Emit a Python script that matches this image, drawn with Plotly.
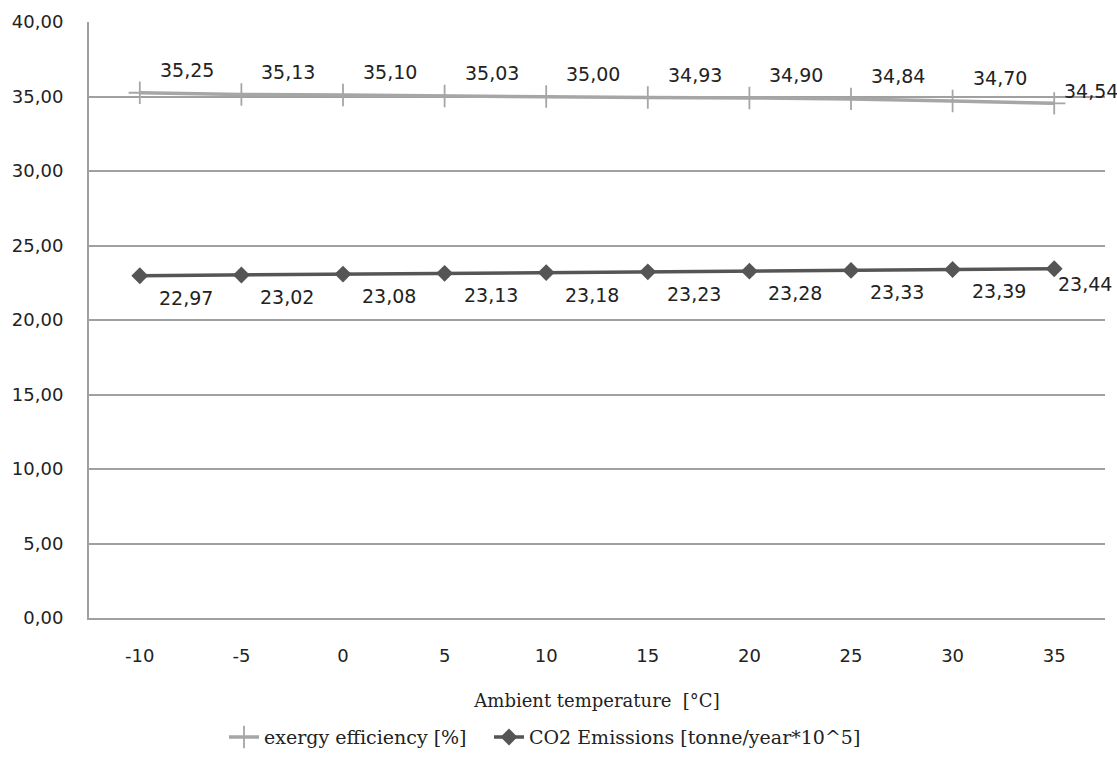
import plotly.graph_objects as go

# Ambient temperature [°C]
temperatures = [-10, -5, 0, 5, 10, 15, 20, 25, 30, 35]
temperature_labels = ["-10", "-5", "0", "5", "10", "15", "20", "25", "30", "35"]

# Exergy efficiency [%]
exergy_efficiency = [35.25, 35.13, 35.10, 35.03, 35.00, 34.93, 34.90, 34.84, 34.70, 34.54]

# CO2 emissions [tonne/year*10^5]
co2_emissions = [22.97, 23.02, 23.08, 23.13, 23.18, 23.23, 23.28, 23.33, 23.39, 23.44]

y_ticks = [0, 5, 10, 15, 20, 25, 30, 35, 40]

SANS = "DejaVu Sans, Verdana, sans-serif"
SERIF = "DejaVu Serif, Liberation Serif, serif"
LIGHT = "#a6a6a6"
DARK = "#555555"
TEXT = "#222222"

fig = go.Figure()

fig.add_trace(go.Scatter(
    x=temperatures, y=exergy_efficiency,
    name="exergy efficiency [%]",
    mode="lines+markers",
    line=dict(color=LIGHT, width=3.5),
    marker=dict(symbol="cross-thin", size=16, line=dict(color=LIGHT, width=1.8)),
    legend="legend",
))

fig.add_trace(go.Scatter(
    x=temperatures, y=co2_emissions,
    name="CO2 Emissions [tonne/year*10^5]",
    mode="lines+markers",
    line=dict(color=DARK, width=3.5),
    marker=dict(symbol="diamond", size=13, color=DARK),
    legend="legend2",
))

# value labels: efficiency above-right, emissions below-right
annotations = []
n = len(temperatures)
for i, (t, v) in enumerate(zip(temperatures, exergy_efficiency)):
    last = i == n - 1
    annotations.append(dict(
        x=t, y=v, xref="x", yref="y",
        text=f"{v:.2f}".replace(".", ","), showarrow=False,
        xshift=37 if last else 47, yshift=12 if last else 23,
        font=dict(family=SANS, size=19, color=TEXT),
    ))
for i, (t, v) in enumerate(zip(temperatures, co2_emissions)):
    last = i == n - 1
    annotations.append(dict(
        x=t, y=v, xref="x", yref="y",
        text=f"{v:.2f}".replace(".", ","), showarrow=False,
        xshift=31 if last else 46, yshift=-15 if last else -22,
        font=dict(family=SANS, size=19, color=TEXT),
    ))

legend_style = dict(
    orientation="h", yanchor="middle", y=-0.2,
    xanchor="left", bgcolor="rgba(0,0,0,0)",
    font=dict(family=SERIF, size=19, color=TEXT),
    itemwidth=30,
)

fig.update_layout(
    width=1117, height=774,
    margin=dict(l=89, r=12, t=22, b=156),
    plot_bgcolor="white", paper_bgcolor="white",
    separators=",.",
    showlegend=True,
    legend=dict(legend_style, x=(224 - 89) / 1016),
    legend2=dict(legend_style, x=(489 - 89) / 1016),
    annotations=annotations,
)

fig.update_xaxes(
    range=[-12.5, 37.5],
    tickvals=temperatures, ticktext=temperature_labels,
    showgrid=False,
    showline=True, linecolor="#a0a0a0", linewidth=2,
    zeroline=False,
    ticks="", ticklabelstandoff=20,
    tickfont=dict(family=SANS, size=18, color=TEXT),
    title=dict(text="Ambient temperature  [°C]", standoff=30,
               font=dict(family=SERIF, size=18, color=TEXT)),
)

fig.update_yaxes(
    range=[0, 40],
    tickvals=y_ticks, tickformat=".2f",
    showgrid=True, gridcolor="#a0a0a0", gridwidth=1.5,
    showline=True, linecolor="#a0a0a0", linewidth=2,
    zeroline=False,
    ticks="", ticklabelstandoff=20,
    tickfont=dict(family=SANS, size=18, color=TEXT),
)

fig.write_html("out.html")
